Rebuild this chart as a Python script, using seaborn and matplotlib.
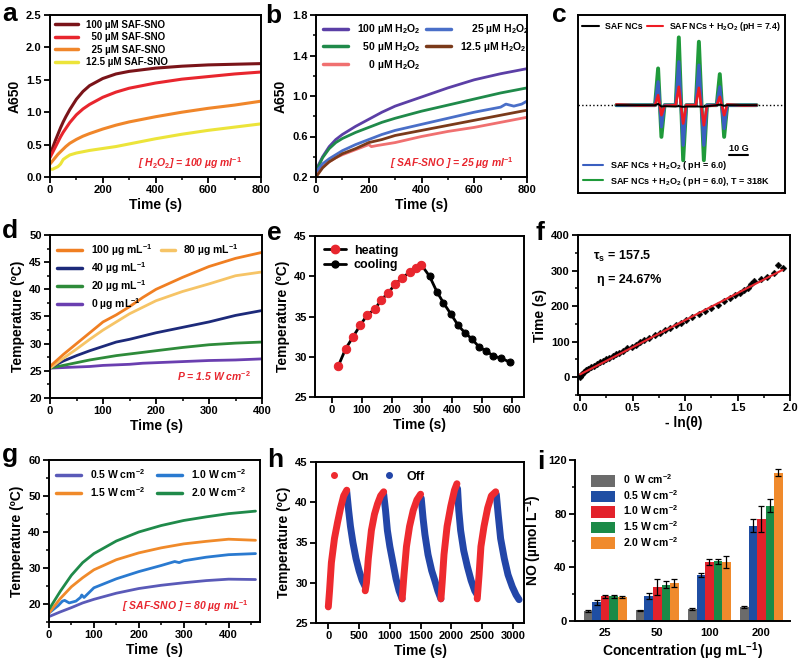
import numpy as np
import pandas as pd
import matplotlib
matplotlib.use('Agg')
import matplotlib.pyplot as plt
import seaborn as sns
from matplotlib.lines import Line2D
from matplotlib.patches import Patch
from matplotlib.ticker import MultipleLocator

sns.set_theme(style='ticks')
plt.rcParams['font.family'] = ['Liberation Sans', 'DejaVu Sans']
plt.rcParams['font.weight'] = 'bold'
plt.rcParams['axes.labelweight'] = 'bold'
plt.rcParams['mathtext.fontset'] = 'custom'
plt.rcParams['mathtext.rm'] = 'Liberation Sans:bold'
plt.rcParams['mathtext.it'] = 'Liberation Sans:italic:bold'
plt.rcParams['mathtext.bf'] = 'Liberation Sans:bold'
plt.rcParams['mathtext.default'] = 'rm'
for k in ['text.color', 'axes.labelcolor', 'xtick.color', 'ytick.color', 'axes.edgecolor']:
    plt.rcParams[k] = 'black'

RED = '#e8262e'

# ---------------- data ----------------
# panel a
a_t = [0, 10, 20, 30, 40, 50, 60, 75, 100, 125, 150, 200, 250, 300, 400, 500, 600, 700, 800]
a_100 = [0.35, 0.45, 0.56, 0.66, 0.76, 0.85, 0.93, 1.04, 1.20, 1.32, 1.41, 1.52, 1.59, 1.63, 1.68, 1.71, 1.73, 1.74, 1.75]
a_50 = [0.30, 0.38, 0.46, 0.54, 0.62, 0.69, 0.75, 0.84, 0.96, 1.05, 1.12, 1.23, 1.31, 1.37, 1.45, 1.51, 1.55, 1.59, 1.62]
a_25 = [0.20, 0.25, 0.30, 0.35, 0.39, 0.43, 0.47, 0.52, 0.58, 0.63, 0.67, 0.74, 0.80, 0.85, 0.93, 1.00, 1.06, 1.11, 1.17]
a_12 = [0.12, 0.12, 0.14, 0.16, 0.20, 0.27, 0.30, 0.34, 0.37, 0.39, 0.41, 0.44, 0.47, 0.51, 0.59, 0.66, 0.72, 0.77, 0.82]
a_labels = ['100 µM SAF-SNO', '  50 µM SAF-SNO', '  25 µM SAF-SNO', '12.5 µM SAF-SNO']
a_colors = ['#7a1419', '#e8262e', '#f0862a', '#ece43a']

# panel b
b_t = [0, 25, 50, 75, 100, 150, 200, 250, 300, 400, 500, 600, 700, 800]
b_100 = [0.27, 0.40, 0.50, 0.57, 0.62, 0.70, 0.77, 0.84, 0.90, 0.99, 1.08, 1.16, 1.22, 1.27]
b_50 = [0.25, 0.39, 0.48, 0.54, 0.58, 0.64, 0.69, 0.74, 0.78, 0.85, 0.91, 0.97, 1.03, 1.08]
b_25_t = [0, 25, 50, 75, 100, 150, 200, 250, 300, 400, 500, 600, 700, 720, 750, 780, 800]
b_25 = [0.25, 0.33, 0.38, 0.42, 0.46, 0.52, 0.57, 0.62, 0.66, 0.72, 0.78, 0.84, 0.89, 0.92, 0.90, 0.92, 0.95]
b_12 = [0.20, 0.29, 0.35, 0.39, 0.43, 0.48, 0.54, 0.57, 0.61, 0.66, 0.71, 0.76, 0.81, 0.86]
b_0_t = [0, 25, 50, 75, 100, 150, 200, 210, 230, 300, 400, 500, 600, 700, 800]
b_0 = [0.22, 0.30, 0.35, 0.39, 0.42, 0.47, 0.52, 0.50, 0.51, 0.54, 0.60, 0.65, 0.69, 0.74, 0.79]
b_colors = ['#5b3fa6', '#1f8a4a', '#f07070', '#4a6fc8', '#7a3a1a']

# panel c (EPR)
c_x = [18.5, 30, 37.2, 38.7, 40.3, 41.8, 47.2, 48.7, 50.8, 52.3, 56.9, 58.4, 60.8, 62.3, 67.0, 68.5, 70.6, 72.1, 80, 86.3]
c_green = [0, 0, 0, 1.10, -0.95, 0, 0, 2.03, -1.65, 0, 0, 1.90, -1.65, 0, 0, 0.93, -0.95, 0, 0, 0]
c_blue = [0, 0, 0, 0.70, -0.65, 0, 0, 1.30, -1.20, 0, 0, 1.20, -1.20, 0, 0, 0.55, -0.70, 0, 0, 0]
c_red = [0.02, -0.01, 0, 0.30, -0.30, -0.02, 0, 0.55, -0.55, 0, 0, 0.52, -0.60, -0.03, 0, 0.25, -0.30, 0.02, -0.01, 0]
c_black = [0, 0, 0, 0.04, -0.04, -0.03, -0.04, -0.03, -0.05, -0.04, -0.04, -0.04, -0.05, -0.03, 0, 0.02, -0.02, 0, 0, 0]

# panel d
d_t = [0, 25, 50, 75, 100, 125, 150, 175, 200, 250, 300, 350, 400]
d_100 = [25.8, 28.0, 30.0, 32.0, 34.0, 35.3, 36.8, 38.5, 40.0, 42.2, 44.2, 45.7, 46.8]
d_80 = [25.5, 27.3, 29.0, 30.8, 32.5, 34.0, 35.5, 36.7, 37.9, 39.6, 41.0, 42.5, 43.2]
d_40 = [25.6, 26.8, 27.8, 28.7, 29.5, 30.3, 30.8, 31.4, 32.0, 33.0, 34.0, 35.2, 36.1]
d_20 = [25.5, 26.0, 26.5, 27.0, 27.4, 27.8, 28.1, 28.4, 28.7, 29.3, 29.8, 30.1, 30.3]
d_0 = [25.5, 25.6, 25.7, 25.8, 26.0, 26.1, 26.2, 26.4, 26.5, 26.7, 26.9, 27.0, 27.2]
d_colors = {'100': '#f07f22', '80': '#f6c466', '40': '#1d2a7a', '20': '#2e8b3a', '0': '#6a3fb0'}

# panel e
e_heat_t = [23, 47, 72, 95, 119, 144, 166, 188, 211, 235, 260, 282, 299]
e_heat_T = [28.9, 31.0, 32.5, 33.9, 35.2, 35.9, 37.1, 37.9, 39.0, 39.8, 40.5, 41.0, 41.4]
e_cool_t = [299, 326, 350, 372, 397, 421, 443, 467, 491, 515, 538, 565, 595]
e_cool_T = [41.4, 40.0, 38.1, 36.7, 35.3, 33.9, 33.0, 32.2, 31.2, 30.7, 30.1, 29.8, 29.3]

# panel f
f_x = [0.0, 0.01, 0.02, 0.04, 0.06, 0.08, 0.10, 0.13, 0.16, 0.19, 0.22, 0.25, 0.28, 0.31, 0.34, 0.37,
       0.41, 0.45, 0.49, 0.53, 0.57, 0.61, 0.66, 0.71, 0.76, 0.81, 0.86, 0.91, 0.96, 1.01, 1.07, 1.13,
       1.19, 1.25, 1.31, 1.37, 1.43, 1.48, 1.52, 1.56, 1.60, 1.63, 1.66, 1.72, 1.78, 1.85, 1.89, 1.93]
f_y = [0, 5, 10, 15, 20, 24, 28, 32, 37, 42, 46, 51, 55, 60, 64, 69, 75, 81, 86, 92, 98, 104, 111, 118,
       125, 132, 139, 146, 153, 160, 169, 178, 186, 195, 204, 213, 222, 231, 238, 245, 252, 262, 270,
       276, 283, 292, 315, 308]
f_fit_x = [0.0, 1.93]
f_fit_y = [8, 302]

# panel g
g_t = [0, 25, 50, 75, 100, 150, 200, 250, 300, 350, 400, 460]
g_20 = [18.5, 23.5, 28.0, 31.5, 34.0, 37.5, 40.0, 41.8, 43.2, 44.2, 45.1, 45.8]
g_15 = [17.5, 21.5, 24.8, 27.3, 29.5, 32.3, 34.2, 35.6, 36.7, 37.4, 38.0, 37.7]
g_10_t = [0, 20, 30, 35, 45, 60, 70, 73, 78, 100, 150, 200, 250, 280, 290, 300, 350, 400, 460]
g_10 = [17.5, 19.5, 20.8, 21.0, 20.3, 20.8, 21.8, 22.5, 21.8, 24.5, 27.0, 29.0, 30.7, 31.8, 31.5, 32.0, 33.0, 33.7, 34.0]
g_05 = [16.5, 17.8, 19.0, 20.3, 21.3, 23.0, 24.3, 25.2, 25.9, 26.5, 26.9, 26.8]

# panel h (on/off cycles)
h_on = [
    ([0, 20, 50, 100, 150, 200, 250, 300], [27.0, 29.0, 32.5, 35.5, 37.5, 39.3, 40.8, 41.5]),
    ([600, 620, 650, 700, 750, 800, 850, 900], [29.0, 30.0, 33.0, 36.5, 38.5, 39.8, 40.8, 41.3]),
    ([1200, 1230, 1270, 1320, 1380, 1440, 1500], [28.0, 31.0, 34.5, 37.0, 39.0, 40.3, 41.0]),
    ([1830, 1850, 1880, 1930, 1990, 2050, 2090], [28.0, 30.0, 33.5, 37.0, 39.5, 41.5, 42.3]),
    ([2420, 2450, 2480, 2530, 2590, 2650, 2720], [28.0, 31.0, 34.5, 37.0, 39.3, 40.8, 41.3]),
]
h_off = [
    ([300, 330, 360, 400, 450, 500, 550, 600], [41.3, 39.0, 37.0, 35.0, 33.0, 31.5, 30.3, 29.5]),
    ([900, 930, 960, 1000, 1050, 1100, 1150, 1200], [41.0, 39.0, 36.5, 34.5, 32.5, 30.5, 29.0, 28.0]),
    ([1510, 1540, 1570, 1620, 1680, 1730, 1780, 1830], [40.5, 38.0, 36.0, 33.5, 31.5, 30.3, 29.0, 28.0]),
    ([2100, 2120, 2150, 2200, 2260, 2320, 2380, 2420], [41.7, 39.0, 36.5, 34.0, 32.0, 30.3, 29.0, 28.5]),
    ([2730, 2760, 2800, 2860, 2920, 2990, 3050, 3100], [41.0, 38.5, 35.5, 33.0, 31.0, 29.5, 28.5, 27.9]),
]

# panel i
i_conc = ['25', '50', '100', '200']
i_power = ['0  W cm$^{-2}$', '0.5 W cm$^{-2}$', '1.0 W cm$^{-2}$', '1.5 W cm$^{-2}$', '2.0 W cm$^{-2}$']
i_vals = [
    [7.5, 8.0, 9.0, 10.5],
    [14.0, 18.5, 34.0, 71.0],
    [18.5, 25.5, 44.0, 76.0],
    [18.5, 27.0, 44.5, 86.0],
    [18.0, 28.0, 44.0, 110.5],
]
i_err = [
    [0.5, 0.5, 0.5, 0.5],
    [2.0, 2.0, 1.5, 5.0],
    [1.0, 6.0, 2.0, 10.0],
    [1.0, 2.5, 2.0, 5.0],
    [1.0, 3.0, 4.5, 2.5],
]
i_colors = ['#6b6b6b', '#1f4ea3', '#e3222b', '#1b8a47', '#f08a2c']

# ---------------- figure ----------------
W, H = 800, 669
fig = plt.figure(figsize=(8, 6.69), dpi=100)


def axes_px(L, R, T, B):
    return fig.add_axes([L / W, 1 - B / H, (R - L) / W, (B - T) / H])


def style(ax, open_=False):
    for s in ax.spines.values():
        s.set_linewidth(1.4)
        s.set_color('black')
    if open_:
        ax.spines['top'].set_visible(False)
        ax.spines['right'].set_visible(False)
    ax.tick_params(axis='both', which='major', length=4, width=1.3, labelsize=8,
                   direction='out', pad=2, color='black')
    ax.tick_params(axis='both', which='minor', length=2.5, width=1.1, direction='out', color='black')


LBL = 10
LEG = dict(frameon=False, handlelength=2.4, handletextpad=0.8, borderaxespad=0.3)

# ---- a ----
ax = axes_px(50, 261, 15, 177)
for ys, c in zip([a_100, a_50, a_25, a_12], a_colors):
    sns.lineplot(x=a_t, y=ys, ax=ax, color=c, lw=2.2, legend=False)
ax.set_xlim(0, 800); ax.set_ylim(0, 2.5)
ax.xaxis.set_major_locator(MultipleLocator(200)); ax.xaxis.set_minor_locator(MultipleLocator(100))
ax.yaxis.set_major_locator(MultipleLocator(0.5))
ax.set_xlabel('Time (s)', fontsize=LBL, labelpad=2); ax.set_ylabel('A650', fontsize=LBL, labelpad=3)
style(ax)
ax.legend([Line2D([], [], color=c, lw=2.5) for c in a_colors], a_labels, loc='upper left',
          prop={'size': 7, 'weight': 'bold'}, labelspacing=0.25, frameon=False, handlelength=2.4,
          handletextpad=0.8, borderaxespad=0.1)
ax.text(530, 0.22, '[ H$_2$O$_2$] = 100 µg ml$^{-1}$', color=RED, fontsize=7.5, style='italic',
        ha='center', va='center')

# ---- b ----
ax = axes_px(316, 527, 15, 177)
sns.lineplot(x=b_t, y=b_100, ax=ax, color=b_colors[0], lw=2, legend=False)
sns.lineplot(x=b_t, y=b_50, ax=ax, color=b_colors[1], lw=2, legend=False)
sns.lineplot(x=b_0_t, y=b_0, ax=ax, color=b_colors[2], lw=2, legend=False)
sns.lineplot(x=b_25_t, y=b_25, ax=ax, color=b_colors[3], lw=2, legend=False)
sns.lineplot(x=b_t, y=b_12, ax=ax, color=b_colors[4], lw=2, legend=False)
ax.set_xlim(0, 800); ax.set_ylim(0.2, 1.8)
ax.xaxis.set_major_locator(MultipleLocator(200)); ax.xaxis.set_minor_locator(MultipleLocator(100))
ax.set_yticks([0.2, 0.6, 1.0, 1.4, 1.8]); ax.yaxis.set_minor_locator(MultipleLocator(0.2))
ax.set_xlabel('Time (s)', fontsize=LBL, labelpad=2); ax.set_ylabel('A650', fontsize=LBL, labelpad=3)
style(ax)
b_labels = ['100 µM H$_2$O$_2$', '  50 µM H$_2$O$_2$', '    0 µM H$_2$O$_2$',
            '    25 µM H$_2$O$_2$', '12.5 µM H$_2$O$_2$']
ax.legend([Line2D([], [], color=c, lw=2.5) for c in b_colors], b_labels, loc='upper left', ncol=2,
          prop={'size': 7.5, 'weight': 'bold'}, labelspacing=0.35, columnspacing=0.6, **LEG)
ax.text(515, 0.34, '[ SAF-SNO ] = 25 µg ml$^{-1}$', color=RED, fontsize=7.5, style='italic',
        ha='center', va='center')

# ---- c ----
ax = axes_px(578, 785, 15, 193)
ax.axhline(0, color='black', lw=1, ls=':', zorder=1)
sns.lineplot(x=c_x, y=c_green, ax=ax, color='#1f9a3a', lw=2.8, legend=False)
sns.lineplot(x=c_x, y=c_blue, ax=ax, color='#3a5fc0', lw=2.3, legend=False)
sns.lineplot(x=c_x, y=c_red, ax=ax, color='#ee1c24', lw=1.9, legend=False)
sns.lineplot(x=c_x, y=c_black, ax=ax, color='black', lw=1.4, legend=False)
ax.set_xlim(0, 100); ax.set_ylim(-2.63, 2.7)
ax.set_xticks([]); ax.set_yticks([])
ax.set_xlabel(''); ax.set_ylabel('')
style(ax)
ax.plot([73, 82], [-1.5, -1.5], color='black', lw=1.5)
ax.text(77.5, -1.42, '10 G', fontsize=6.5, ha='center', va='bottom')
leg1 = ax.legend([Line2D([], [], color='black', lw=1.5), Line2D([], [], color='#ee1c24', lw=1.5)],
                 ['SAF NCs', 'SAF NCs + H$_2$O$_2$ (pH = 7.4)'], loc='upper center', ncol=2,
                 prop={'size': 6.3, 'weight': 'bold'}, columnspacing=0.5, frameon=False,
                 handlelength=1.9, handletextpad=0.7, borderaxespad=0.2)
ax.add_artist(leg1)
ax.legend([Line2D([], [], color='#3a5fc0', lw=1.5), Line2D([], [], color='#1f9a3a', lw=1.5)],
          ['SAF NCs + H$_2$O$_2$ ( pH = 6.0)', 'SAF NCs + H$_2$O$_2$ ( pH = 6.0), T = 318K'],
          loc='lower left', prop={'size': 6.5, 'weight': 'bold'}, frameon=False,
          handlelength=2.2, handletextpad=0.8, borderaxespad=0.2, labelspacing=0.3)

# ---- d ----
ax = axes_px(50, 262, 235, 398)
for ys, k in zip([d_0, d_20, d_40, d_80, d_100], ['0', '20', '40', '80', '100']):
    sns.lineplot(x=d_t, y=ys, ax=ax, color=d_colors[k], lw=2, legend=False)
ax.set_xlim(0, 400); ax.set_ylim(20, 50)
ax.xaxis.set_major_locator(MultipleLocator(100)); ax.xaxis.set_minor_locator(MultipleLocator(50))
ax.yaxis.set_major_locator(MultipleLocator(5)); ax.yaxis.set_minor_locator(MultipleLocator(2.5))
ax.set_xlabel('Time (s)', fontsize=LBL, labelpad=2); ax.set_ylabel('Temperature (ºC)', fontsize=LBL, labelpad=3)
style(ax)
dl1 = ax.legend([Line2D([], [], color=d_colors[k], lw=2.5) for k in ['100', '40', '20', '0']],
                ['100 µg mL$^{-1}$', '40 µg mL$^{-1}$', '20 µg mL$^{-1}$', '0 µg mL$^{-1}$'],
                loc='upper left', prop={'size': 7.5, 'weight': 'bold'}, labelspacing=0.2, **LEG)
ax.add_artist(dl1)
ax.legend([Line2D([], [], color=d_colors['80'], lw=2.5)], ['80 µg mL$^{-1}$'],
          loc='upper left', bbox_to_anchor=(0.49, 1.0), prop={'size': 7.5, 'weight': 'bold'},
          frameon=False, handlelength=1.3, handletextpad=0.8, borderaxespad=0.3)
ax.text(310, 24, 'P = 1.5 W cm$^{-2}$', color=RED, fontsize=7.5, style='italic', ha='center', va='center')

# ---- e ----
ax = axes_px(315, 524, 236, 397)
sns.lineplot(x=e_heat_t, y=e_heat_T, ax=ax, color='black', lw=2, marker='o', markersize=6,
             markerfacecolor=RED, markeredgecolor=RED, legend=False, zorder=3)
sns.lineplot(x=e_cool_t, y=e_cool_T, ax=ax, color='black', lw=2, marker='o', markersize=5,
             markerfacecolor='black', markeredgecolor='black', legend=False, zorder=2)
ax.set_xlim(-55, 640); ax.set_ylim(25, 45)
ax.xaxis.set_major_locator(MultipleLocator(100))
ax.yaxis.set_major_locator(MultipleLocator(5))
ax.set_xlabel('Time (s)', fontsize=LBL, labelpad=2); ax.set_ylabel('Temperature (ºC)', fontsize=LBL, labelpad=3)
style(ax)
ax.legend([Line2D([], [], color='black', lw=2, marker='o', ms=6, mfc=RED, mec=RED),
           Line2D([], [], color='black', lw=2, marker='o', ms=5, mfc='black', mec='black')],
          ['heating', 'cooling'], loc='upper left', prop={'size': 9, 'weight': 'bold'},
          frameon=False, handlelength=1.8, handletextpad=0.6, labelspacing=0.2, borderaxespad=0.3)

# ---- f ----
ax = axes_px(578, 790, 235, 395)
sns.lineplot(x=f_fit_x, y=f_fit_y, ax=ax, color=RED, lw=1.5, legend=False, zorder=3)
sns.scatterplot(x=f_x, y=f_y, ax=ax, color='black', marker='D', s=12, edgecolor='black', zorder=2)
ax.set_xlim(-0.02, 2.0); ax.set_ylim(-50, 400)
ax.xaxis.set_major_locator(MultipleLocator(0.5)); ax.xaxis.set_minor_locator(MultipleLocator(0.25))
ax.yaxis.set_major_locator(MultipleLocator(100)); ax.yaxis.set_minor_locator(MultipleLocator(50))
ax.set_xlabel('- ln(θ)', fontsize=LBL, labelpad=2); ax.set_ylabel('Time (s)', fontsize=LBL, labelpad=3)
style(ax)
ax.text(0.12, 340, 'τ$_s$ = 157.5', fontsize=9, ha='left', va='center')
ax.text(0.16, 274, 'η = 24.67%', fontsize=9, ha='left', va='center')

# ---- g ----
ax = axes_px(49, 260, 460, 622)
g_colors = ['#5a5ab8', '#2a7ad0', '#f08a2a', '#1f8a4a']
sns.lineplot(x=g_t, y=g_05, ax=ax, color=g_colors[0], lw=2, legend=False)
sns.lineplot(x=g_10_t, y=g_10, ax=ax, color=g_colors[1], lw=2, legend=False)
sns.lineplot(x=g_t, y=g_15, ax=ax, color=g_colors[2], lw=2, legend=False)
sns.lineplot(x=g_t, y=g_20, ax=ax, color=g_colors[3], lw=2, legend=False)
ax.set_xlim(0, 470); ax.set_ylim(15, 60)
ax.xaxis.set_major_locator(MultipleLocator(100)); ax.xaxis.set_minor_locator(MultipleLocator(50))
ax.yaxis.set_major_locator(MultipleLocator(10)); ax.yaxis.set_minor_locator(MultipleLocator(5))
ax.set_xlabel('Time  (s)', fontsize=LBL, labelpad=2); ax.set_ylabel('Temperature (ºC)', fontsize=LBL, labelpad=3)
style(ax)
ax.legend([Line2D([], [], color=c, lw=2.5) for c in [g_colors[0], g_colors[2], g_colors[1], g_colors[3]]],
          ['0.5 W cm$^{-2}$', '1.5 W cm$^{-2}$', '1.0 W cm$^{-2}$', '2.0 W cm$^{-2}$'],
          loc='upper left', ncol=2, prop={'size': 7.5, 'weight': 'bold'}, labelspacing=0.4,
          columnspacing=1.2, **LEG)
ax.text(305, 19.3, '[ SAF-SNO ] = 80 µg mL$^{-1}$', color=RED, fontsize=7.5, style='italic',
        ha='center', va='center')

# ---- h ----
ax = axes_px(316, 524, 462, 623)
rows = []
for k, (tt, vv) in enumerate(h_off):
    for t, v in zip(tt, vv):
        rows.append(('Off', k, t, v))
for k, (tt, vv) in enumerate(h_on):
    for t, v in zip(tt, vv):
        rows.append(('On', k, t, v))
hdf = pd.DataFrame(rows, columns=['state', 'cycle', 't', 'T'])
sns.lineplot(data=hdf[hdf.state == 'Off'], x='t', y='T', units='cycle', estimator=None, ax=ax,
             color='#2346a8', lw=5, legend=False)
sns.lineplot(data=hdf[hdf.state == 'On'], x='t', y='T', units='cycle', estimator=None, ax=ax,
             color='#ee2a2f', lw=5, legend=False)
ax.set_xlim(-200, 3180); ax.set_ylim(25, 45)
ax.xaxis.set_major_locator(MultipleLocator(500))
ax.yaxis.set_major_locator(MultipleLocator(5))
ax.set_xlabel('Time (s)', fontsize=LBL, labelpad=2); ax.set_ylabel('Temperature (ºC)', fontsize=LBL, labelpad=3)
style(ax)
ax.legend([Line2D([], [], ls='', marker='o', ms=4, color='#ee2a2f'),
           Line2D([], [], ls='', marker='o', ms=4, color='#2346a8')], ['On', 'Off'],
          loc='upper left', bbox_to_anchor=(0.02, 1.0), ncol=2, prop={'size': 9, 'weight': 'bold'},
          frameon=False, handlelength=0.8, handletextpad=1.0, columnspacing=1.2, borderaxespad=0.3)

# ---- i ----
ax = axes_px(575, 790, 460, 621)
irows = []
for p, vals in zip(i_power, i_vals):
    for c, v in zip(i_conc, vals):
        irows.append((c, p, v))
idf = pd.DataFrame(irows, columns=['conc', 'power', 'val'])
sns.barplot(data=idf, x='conc', y='val', hue='power', order=i_conc, hue_order=i_power,
            palette=i_colors, errorbar=None, width=0.82, linewidth=0, ax=ax, legend=False,
            saturation=1)
for cont, errs in zip(ax.containers, i_err):
    xs = [b.get_x() + b.get_width() / 2 for b in cont]
    hs = [b.get_height() for b in cont]
    ax.errorbar(xs, hs, yerr=errs, fmt='none', ecolor='black', elinewidth=0.9, capsize=2, capthick=0.9)
ax.set_xlim(-0.58, 3.55); ax.set_ylim(0, 120)
ax.yaxis.set_major_locator(MultipleLocator(40)); ax.yaxis.set_minor_locator(MultipleLocator(20))
ax.set_xlabel('Concentration (µg mL$^{-1}$)', fontsize=LBL, labelpad=2)
ax.set_ylabel('NO (µmol L$^{-1}$)', fontsize=LBL, labelpad=3)
style(ax, open_=True)
ax.tick_params(axis='x', which='major', length=0, pad=5)
ax.legend([Patch(facecolor=c, edgecolor='none') for c in i_colors], i_power, loc='upper left',
          bbox_to_anchor=(0.03, 0.98), prop={'size': 7.5, 'weight': 'bold'}, frameon=False,
          handlelength=2.3, handleheight=1.3, handletextpad=0.8, labelspacing=0.15)

# ---- panel letters ----
for letter, x, y in [('a', 2, 21), ('b', 265, 23), ('c', 552, 22), ('d', 2, 238), ('e', 267, 240),
                     ('f', 536, 240), ('g', 2, 462), ('h', 267, 467), ('i', 537, 469)]:
    fig.text(x / W, 1 - y / H, letter, fontsize=19, fontweight='bold', ha='left', va='baseline')

fig.savefig('out.png', dpi=100)
